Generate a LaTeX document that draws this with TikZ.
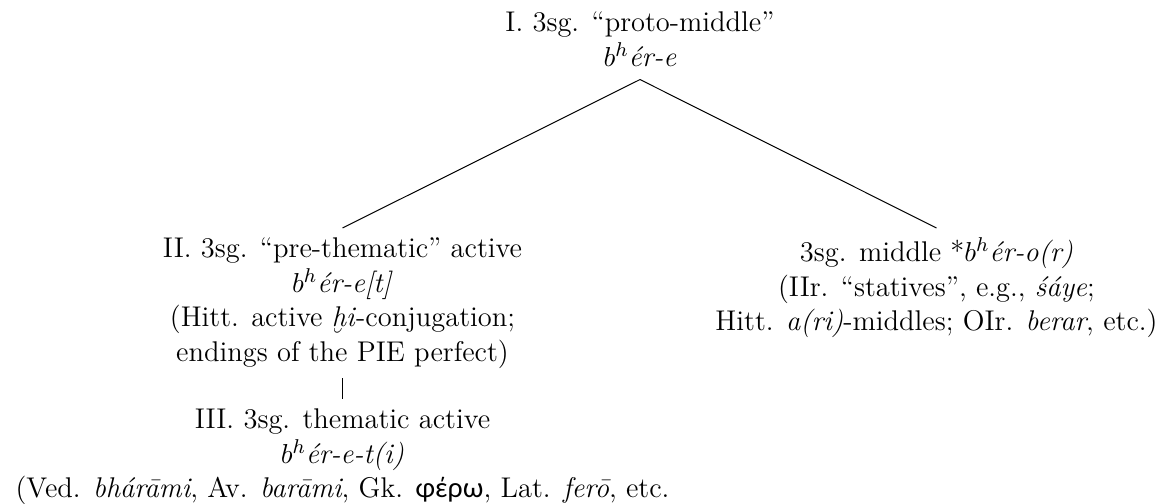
\documentclass[tikz,border=0pt]{standalone}
\usepackage{fontspec}
\newfontfamily\greekfont{Lato}[Scale=0.95]
\usetikzlibrary{positioning,calc}

\tikzset{stage/.style={align=center, inner sep=3.8pt, font=\fontsize{11.4}{13.8}\selectfont}}

\begin{document}
\begin{tikzpicture}[x=0.4pt,y=-0.4pt]
			\useasboundingbox (0,0) rectangle (1171,504);
			
			\node[stage, anchor=north, inner ysep=5pt] (proto) at (640,-1) {I. 3sg. ``proto-middle''\\ $b^h$\textit{ér-e}};
			\node[stage, anchor=north] (prethem) at (342.5,228) {II. 3sg. ``pre-thematic'' active\\ $b^h$\textit{ér-e[t]}\\ (Hitt. active \textit{ḫi}-conjugation;\\ endings of the PIE perfect)};
			\node[stage, anchor=north] (middle) at (936.5,228) {3sg. middle *$b^h$\textit{ér-o(r)}\\ (IIr. ``statives'', e.g., \textit{śáye};\\ Hitt. \textit{a(ri)}-middles; OIr. \textit{berar}, etc.)};
			\node[stage, anchor=north] (them) at (342.5,399) {III. 3sg. thematic active\\ $b^h$\textit{ér-e-t(i)}\\ (Ved. \textit{bhárāmi}, Av. \textit{barāmi}, Gk. {\greekfont φέρω}, Lat. \textit{ferō}, etc.};
			
			\draw (proto.south) to (prethem.north);
			\draw (proto.south) to (middle.north);
			\draw (prethem.south) to (them.north);
			\end{tikzpicture}
\end{document}
